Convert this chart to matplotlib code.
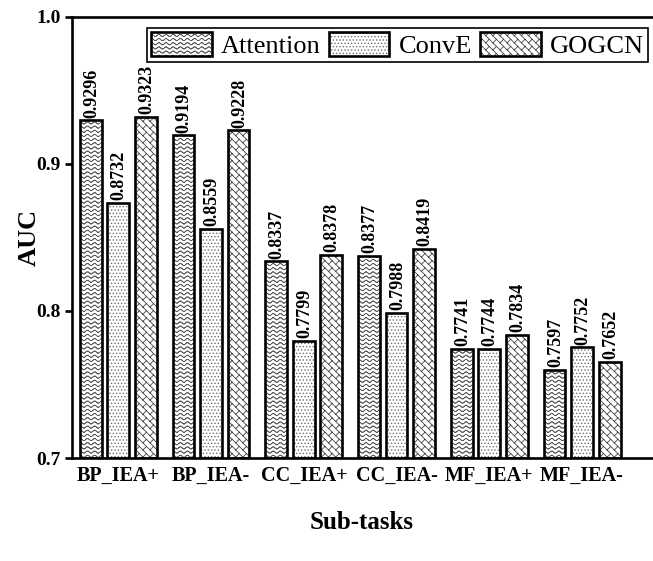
import warnings

import numpy as np
import matplotlib
matplotlib.use("Agg")
import matplotlib.pyplot as plt
from matplotlib import hatch as mhatch
from matplotlib.path import Path
from matplotlib.patches import Patch
from matplotlib.legend_handler import HandlerTuple

warnings.filterwarnings("ignore")

tasks = ["BP_IEA+", "BP_IEA-", "CC_IEA+", "CC_IEA-", "MF_IEA+", "MF_IEA-"]
attention = [0.9296, 0.9194, 0.8337, 0.8377, 0.7741, 0.7597]
conve = [0.8732, 0.8559, 0.7799, 0.7988, 0.7744, 0.7752]
gogcn = [0.9323, 0.9228, 0.8378, 0.8419, 0.7834, 0.7652]
methods = ["Attention", "ConvE", "GOGCN"]


# extra hatch patterns: '~' wavy lines, 'b' diagonal bricks
class WaveHatch(mhatch.HatchPatternBase):
    n_lines = 24
    periods = 14
    seg = 6

    def __init__(self, hatch, density):
        self.on = hatch.count('~') > 0
        nseg = self.periods * self.seg
        self.num_vertices = self.n_lines * nseg * 2 if self.on else 0

    def set_vertices_and_codes(self, vertices, codes):
        nseg = self.periods * self.seg
        x = np.linspace(0, 1, nseg + 1)
        rows = []
        for i in range(self.n_lines):
            y = (i + 0.5) / self.n_lines + 0.011 * np.sin(2 * np.pi * self.periods * x)
            pts = np.column_stack([x, y])
            rows.append(np.stack([pts[:-1], pts[1:]], axis=1).reshape(-1, 2))
        vertices[:] = np.concatenate(rows)
        codes[0::2] = Path.MOVETO
        codes[1::2] = Path.LINETO


class BrickHatch(mhatch.HatchPatternBase):
    n = 14   # diagonal lines per unit
    m = 7    # joints per unit along x - y

    def __init__(self, hatch, density):
        self.on = hatch.count('b') > 0
        self.segs = self._segments() if self.on else []
        self.num_vertices = len(self.segs) * 2

    def _segments(self):
        segs = []
        for k in range(-1, 2 * self.n + 2):
            c = k / self.n
            segs.append(((c - 1.2, 1.2), (c + 1.2, -1.2)))
            c2 = (k + 1) / self.n
            for j in range(-self.m - 1, self.m + 2):
                s = j / self.m + (k % 2) * 0.5 / self.m
                segs.append((((c + s) / 2, (c - s) / 2),
                             ((c2 + s) / 2, (c2 - s) / 2)))
        return segs

    def set_vertices_and_codes(self, vertices, codes):
        vertices[:] = np.array(self.segs).reshape(-1, 2)
        codes[0::2] = Path.MOVETO
        codes[1::2] = Path.LINETO


mhatch._hatch_types.extend([WaveHatch, BrickHatch])

plt.rcParams['font.family'] = 'Liberation Serif'
plt.rcParams['hatch.linewidth'] = 0.6

fig = plt.figure(figsize=(6.53, 5.61), dpi=100)
ax = fig.add_axes([0.110, 0.1836, 0.888, 0.7861])

x = np.arange(len(tasks))
width = 0.235
offset = 0.297
styles = [("~", "#5a5a5a"), (".....", "#707070"), ("b", "#444444")]
handles = []
for i, (vals, (h, hc)) in enumerate(zip([attention, conve, gogcn], styles)):
    pos = x + (i - 1) * offset
    heights = np.array(vals) - 0.7
    ax.bar(pos, heights, width, bottom=0.7, color="white", edgecolor=hc,
           linewidth=0, hatch=h)
    ax.bar(pos, heights, width, bottom=0.7, fill=False, edgecolor="black",
           linewidth=1.9)
    for p, v in zip(pos, vals):
        ax.text(p + 0.01, v + 0.002, f"{v:.4f}", rotation=90, ha="center", va="bottom",
                fontsize=13, fontweight="bold")
    handles.append((Patch(facecolor="white", edgecolor=hc, linewidth=0, hatch=h),
                    Patch(fill=False, edgecolor="black", linewidth=1.9)))

ax.set_xlim(-0.5, 5.75)
ax.set_ylim(0.7, 1.0)
ax.set_yticks([0.7, 0.8, 0.9, 1.0])
ax.set_yticklabels(["0.7", "0.8", "0.9", "1.0"], fontweight="bold", fontsize=14)
ax.set_xticks(x)
ax.set_xticklabels(tasks, fontweight="bold", fontsize=14.5)
ax.tick_params(axis="x", length=0, pad=6)
ax.tick_params(axis="y", length=5, width=1.9, pad=3)
ax.spines["right"].set_visible(False)
for s in ["left", "bottom", "top"]:
    ax.spines[s].set_linewidth(1.9)

ax.set_ylabel("AUC", fontsize=19, fontweight="bold", labelpad=-3)
ax.set_xlabel("Sub-tasks", fontsize=18, fontweight="bold", labelpad=18)

leg = ax.legend(handles, methods, handler_map={tuple: HandlerTuple(ndivide=1)},
                loc="upper right", bbox_to_anchor=(648 / 653, 1 - 28 / 561),
                bbox_transform=fig.transFigure, borderaxespad=0, ncol=3,
                fontsize=19, handlelength=2.3, handleheight=1.05,
                handletextpad=0.35, columnspacing=0.3, borderpad=0.15,
                fancybox=False, edgecolor="black", framealpha=1)
leg.get_frame().set_linewidth(1.2)

fig.savefig("out.png", dpi=100)
